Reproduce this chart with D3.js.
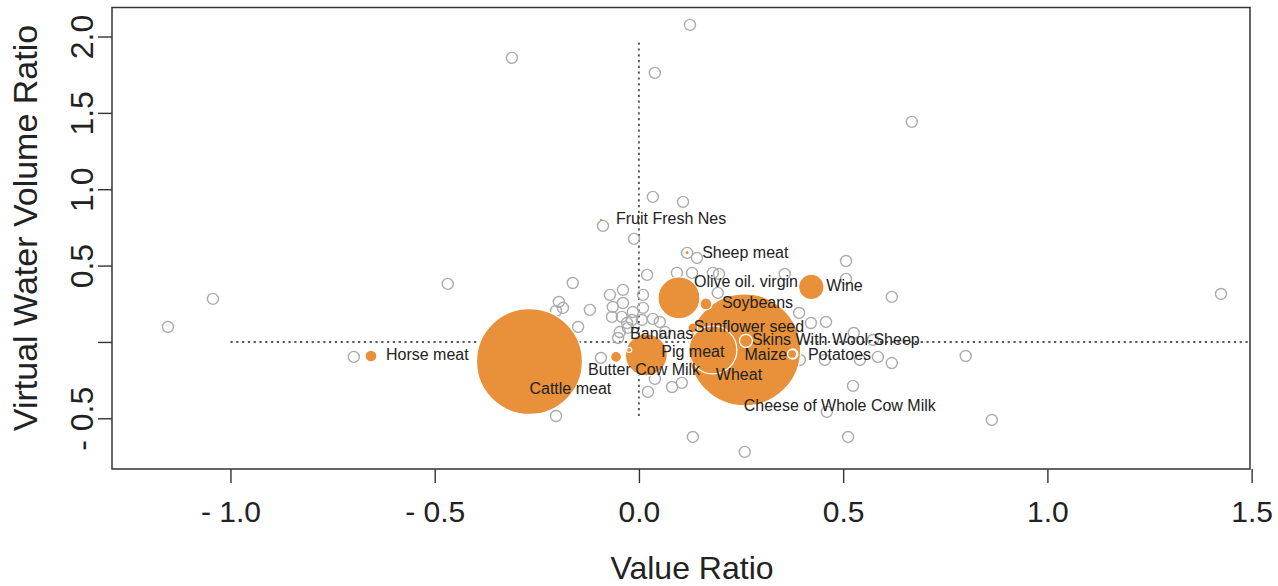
<!DOCTYPE html>
<html>
<head>
<meta charset="utf-8">
<script src="https://cdn.jsdelivr.net/npm/d3@7"></script>
<style>
  body { margin: 0; background: #fff; }
  svg { display: block; font-family: "Liberation Sans", Arial, sans-serif; }
</style>
</head>
<body>
<svg id="graphique" width="1278" height="586"></svg>
<script>
// produits (cercles gris) : ratio de valeur / ratio de volume d'eau virtuelle
const grayX = [-1.153, -1.043, -0.468, -0.311, 0.125, 0.039, 0.668, 0.034, 0.108, -0.088,
  -0.012, -0.698, -0.203, 1.425, 0.864, 0.800, 0.259, 0.132, 0.512, 0.460,
  0.524, -0.162, -0.196, -0.186, -0.203, -0.120, -0.071, -0.039, -0.064, -0.039,
  -0.066, -0.042, -0.015, -0.029, -0.017, -0.149, -0.047, -0.027, -0.051, -0.093,
  0.010, 0.020, 0.010, 0.007, 0.034, 0.051, 0.064, 0.093, 0.130, 0.181,
  0.196, 0.142, 0.118, 0.357, 0.507, 0.507, 0.619, 0.193, 0.392, 0.421,
  0.458, 0.526, 0.455, 0.541, 0.585, 0.619, 0.394, 0.022, 0.039, 0.081,
  0.105, 0.573];
const grayY = [0.098, 0.282, 0.380, 1.860, 2.076, 1.762, 1.441, 0.950, 0.917, 0.760,
  0.675, -0.098, -0.485, 0.314, -0.511, -0.092, -0.720, -0.622, -0.622, -0.458,
  -0.288, 0.386, 0.262, 0.223, 0.203, 0.210, 0.308, 0.341, 0.229, 0.255,
  0.164, 0.164, 0.196, 0.124, 0.144, 0.098, 0.065, 0.092, 0.026, -0.105,
  0.308, 0.439, 0.223, 0.144, 0.151, 0.131, 0.065, 0.452, 0.452, 0.452,
  0.445, 0.550, 0.583, 0.445, 0.530, 0.413, 0.295, 0.321, 0.190, 0.124,
  0.131, 0.059, -0.118, -0.118, -0.098, -0.138, -0.118, -0.327, -0.242, -0.295,
  -0.268, 0.013];

// produits mis en évidence (cercles orange), taille = poids du produit
const products = ['Horse meat', 'Cattle meat', 'Butter Cow Milk', 'Bananas', 'Pig meat',
  'Fruit Fresh Nes', 'Sheep meat', 'Olive oil. virgin', 'Soybeans', 'Sunflower seed',
  'Wheat', 'Cheese of Whole Cow Milk', 'Skins With Wool-Sheep', 'Maize', 'Potatoes', 'Wine'];
const prodX = [-0.656, -0.268, -0.056, -0.024, 0.018, -0.093, 0.118, 0.098, 0.164, 0.132,
  0.181, 0.259, 0.262, 0.375, 0.377, 0.422];
const prodY = [-0.092, -0.128, -0.098, -0.052, -0.085, 0.799, 0.586, 0.288, 0.249, 0.092,
  -0.052, -0.052, 0.007, -0.079, -0.079, 0.360];
const prodSize = [1.15, 89.6, 0.96, 0.20, 14.1, 0.046, 0.072, 14.1, 1.15, 0.80,
  18.4, 100, 1.35, 0.65, 0.80, 5.2];

// graduations des axes
const xTicks = [-1.0, -0.5, 0.0, 0.5, 1.0, 1.5];
const yTicks = [-0.5, 0.0, 0.5, 1.0, 1.5, 2.0];
const yTickLabels = ['- 0.5', '', '0.5', '1.0', '1.5', '2.0'];

// placement des étiquettes (décalage en pixels depuis le centre du cercle)
const labelPlace = {
  'Horse meat': [15, -1, 'start'],
  'Cattle meat': [0, 27, 'start'],
  'Butter Cow Milk': [-28, 13, 'start'],
  'Bananas': [1, -16, 'start'],
  'Pig meat': [15, -3, 'start'],
  'Fruit Fresh Nes': [15, -1, 'start'],
  'Sheep meat': [15, 0, 'start'],
  'Olive oil. virgin': [15, -16, 'start'],
  'Soybeans': [16, -1, 'start'],
  'Sunflower seed': [1, -1, 'start'],
  'Wheat': [3, 25, 'start'],
  'Cheese of Whole Cow Milk': [-1, 56, 'start'],
  'Skins With Wool-Sheep': [6, -1, 'start'],
  'Maize': [-5, 0, 'end'],
  'Potatoes': [15, 0, 'start'],
  'Wine': [15, -1, 'start']
};

const svg = d3.select('#graphique');
const plotLeft = 112, plotRight = 1250, plotTop = 7.5, plotBottom = 469;

const x = d3.scaleLinear().domain([-1.29, 1.496]).range([plotLeft, plotRight]);
const y = d3.scaleLinear().domain([-0.832, 2.19]).range([plotBottom, plotTop]);
const r = d3.scaleSqrt().domain([0, 100]).range([0, 56]);

// lignes de référence en pointillés
svg.append('line')
  .attr('x1', x(-1.0)).attr('x2', x(1.496))
  .attr('y1', y(0)).attr('y2', y(0))
  .attr('stroke', '#222').attr('stroke-width', 1.4)
  .attr('stroke-dasharray', '2.2,3.6');
svg.append('line')
  .attr('x1', x(0)).attr('x2', x(0))
  .attr('y1', y(1.96)).attr('y2', y(-0.5))
  .attr('stroke', '#222').attr('stroke-width', 1.4)
  .attr('stroke-dasharray', '2.2,3.6');

// cercles gris
const grayPoints = grayX.map((v, i) => ({ x: v, y: grayY[i] }));
svg.append('g').selectAll('circle')
  .data(grayPoints)
  .enter().append('circle')
  .attr('cx', d => x(d.x))
  .attr('cy', d => y(d.y))
  .attr('r', 5.5)
  .attr('fill', 'none')
  .attr('stroke', '#ababab')
  .attr('stroke-width', 1.4);

// cercles orange, les plus grands d'abord
const prodPoints = products.map((name, i) => ({ name: name, x: prodX[i], y: prodY[i], size: prodSize[i] }));
svg.append('g').selectAll('circle')
  .data(prodPoints.slice().sort((a, b) => b.size - a.size))
  .enter().append('circle')
  .attr('cx', d => x(d.x))
  .attr('cy', d => y(d.y))
  .attr('r', d => r(d.size))
  .attr('fill', '#e8913a')
  .attr('stroke', '#fff')
  .attr('stroke-width', d => r(d.size) > 2 ? 1.3 : 0);

// étiquettes
svg.append('g').selectAll('text')
  .data(prodPoints)
  .enter().append('text')
  .attr('x', d => x(d.x) + labelPlace[d.name][0])
  .attr('y', d => y(d.y) + labelPlace[d.name][1])
  .attr('text-anchor', d => labelPlace[d.name][2])
  .attr('dominant-baseline', 'central')
  .attr('font-size', 16)
  .attr('fill', '#222')
  .text(d => d.name);

// axes
const xAxis = svg.append('g')
  .attr('transform', `translate(0, ${plotBottom})`)
  .call(d3.axisBottom(x).tickValues(xTicks).tickSize(14)
    .tickFormat(d => d < 0 ? '- ' + d3.format('.1f')(-d) : d3.format('.1f')(d)));
xAxis.select('.domain').remove();
xAxis.selectAll('line').attr('stroke', '#333').attr('stroke-width', 1.4);
xAxis.selectAll('text')
  .attr('y', 53).attr('dy', 0)
  .attr('font-size', 30)
  .attr('font-family', '"Liberation Sans", Arial, sans-serif')
  .attr('fill', '#222');

const yAxis = svg.append('g')
  .attr('transform', `translate(${plotLeft}, 0)`)
  .call(d3.axisLeft(y).tickValues(yTicks).tickSize(14)
    .tickFormat((d, i) => yTickLabels[i]));
yAxis.select('.domain').remove();
yAxis.selectAll('line').attr('stroke', '#333').attr('stroke-width', 1.4);
yAxis.selectAll('text')
  .attr('transform', 'rotate(-90)')
  .attr('x', 0).attr('y', -19).attr('dy', 0)
  .attr('text-anchor', 'middle')
  .attr('font-size', 32)
  .attr('font-family', '"Liberation Sans", Arial, sans-serif')
  .attr('fill', '#222');

// cadre
svg.append('rect')
  .attr('x', plotLeft).attr('y', plotTop)
  .attr('width', plotRight - plotLeft).attr('height', plotBottom - plotTop)
  .attr('fill', 'none')
  .attr('stroke', '#333')
  .attr('stroke-width', 1.5);

// titres des axes
svg.append('text')
  .attr('x', 692).attr('y', 579)
  .attr('text-anchor', 'middle')
  .attr('font-size', 32)
  .attr('fill', '#222')
  .text('Value Ratio');

svg.append('text')
  .attr('transform', 'translate(37, 228) rotate(-90)')
  .attr('text-anchor', 'middle')
  .attr('font-size', 34)
  .attr('fill', '#222')
  .text('Virtual Water Volume Ratio');
</script>
</body>
</html>
